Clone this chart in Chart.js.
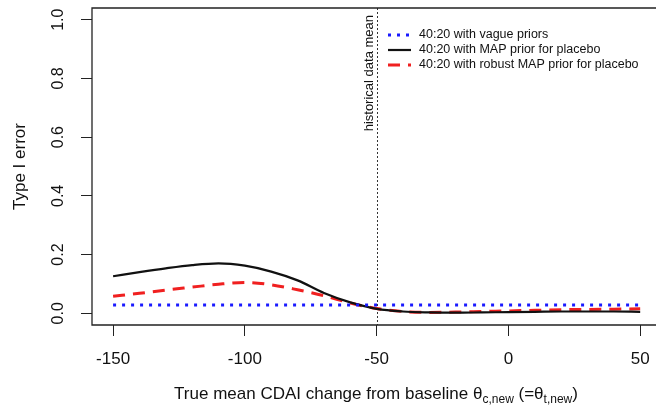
<!DOCTYPE html>
<html>
<head>
<meta charset="utf-8">
<script src="https://cdn.jsdelivr.net/npm/chart.js@4"></script>
<style>
  html, body { margin: 0; padding: 0; background: #fff; overflow: hidden; }
  #wrap { width: 656px; height: 406px; }
</style>
</head>
<body>
<div id="wrap"><canvas id="myChart" width="656" height="406"></canvas></div>
<script>
// valores
const xVals = [-150, -140, -130, -120, -110, -100, -90, -80, -70, -60, -50, -40, -30, -20, -10, 0, 10, 20, 30, 40, 50];
const vague = [0.028, 0.028, 0.028, 0.028, 0.028, 0.028, 0.028, 0.028, 0.028, 0.028, 0.028, 0.028, 0.028, 0.028, 0.028, 0.028, 0.028, 0.028, 0.028, 0.028, 0.028];
const mapPrior = [0.126, 0.140, 0.153, 0.164, 0.170, 0.162, 0.142, 0.112, 0.069, 0.037, 0.015, 0.006, 0.003, 0.002, 0.003, 0.004, 0.005, 0.006, 0.006, 0.006, 0.005];
const robustMap = [0.058, 0.068, 0.079, 0.089, 0.099, 0.105, 0.097, 0.080, 0.060, 0.035, 0.016, 0.006, 0.003, 0.004, 0.006, 0.008, 0.010, 0.012, 0.013, 0.014, 0.015];

const xTicks = [-150, -100, -50, 0, 50];
const yTicks = [0, 0.2, 0.4, 0.6, 0.8, 1.0];
const yTickLabels = ['0.0', '0.2', '0.4', '0.6', '0.8', '1.0'];
const seriesLabels = ['40:20 with vague priors', '40:20 with MAP prior for placebo', '40:20 with robust MAP prior for placebo'];
const historicalMean = -50;

const toPoints = arr => arr.map((y, i) => ({ x: xVals[i], y }));

// dibuja caja, etiquetas del eje y, titulos, linea vertical y leyenda
const extras = {
    id: 'extras',
    beforeDatasetsDraw(chart) {
        const c = chart.ctx;
        const a = chart.chartArea;
        const xs = chart.scales.x;
        const px = xs.getPixelForValue(historicalMean);
        c.save();
        c.strokeStyle = '#333';
        c.lineWidth = 1;
        c.setLineDash([2, 2]);
        c.beginPath();
        c.moveTo(Math.round(px) + 0.5, a.top);
        c.lineTo(Math.round(px) + 0.5, a.bottom);
        c.stroke();
        c.restore();
    },
    afterDraw(chart) {
        const c = chart.ctx;
        const a = chart.chartArea;
        const ys = chart.scales.y;
        const xs = chart.scales.x;
        c.save();
        // caja (el lado derecho queda fuera de la imagen)
        c.strokeStyle = '#222';
        c.lineWidth = 1.3;
        c.beginPath();
        c.moveTo(chart.width + 10, a.top);
        c.lineTo(a.left, a.top);
        c.lineTo(a.left, a.bottom);
        c.lineTo(chart.width + 10, a.bottom);
        c.stroke();

        // etiquetas eje y (rotadas)
        c.fillStyle = '#111';
        c.font = '16px "Liberation Sans", Arial, sans-serif';
        c.textAlign = 'center';
        c.textBaseline = 'middle';
        yTicks.forEach((v, i) => {
            c.save();
            c.translate(59, ys.getPixelForValue(v));
            c.rotate(-Math.PI / 2);
            c.fillText(yTickLabels[i], 0, 0);
            c.restore();
        });

        // titulo eje y
        c.font = '17px "Liberation Sans", Arial, sans-serif';
        c.save();
        c.translate(20, (a.top + a.bottom) / 2);
        c.rotate(-Math.PI / 2);
        c.fillText('Type I error', 0, 0);
        c.restore();

        // titulo eje x con subindices
        const big = '17px "Liberation Sans", Arial, sans-serif';
        const small = '12px "Liberation Sans", Arial, sans-serif';
        const parts = [
            ['True mean CDAI change from baseline \u03b8', big, 0],
            ['c,new', small, 4],
            [' (=\u03b8', big, 0],
            ['t,new', small, 4],
            [')', big, 0]
        ];
        let total = 0;
        parts.forEach(p => { c.font = p[1]; total += c.measureText(p[0]).width; });
        let tx = 376 - total / 2;
        c.textAlign = 'left';
        c.textBaseline = 'alphabetic';
        parts.forEach(p => {
            c.font = p[1];
            c.fillText(p[0], tx, 399 + p[2]);
            tx += c.measureText(p[0]).width;
        });

        // texto vertical de la media historica
        c.font = '13px "Liberation Sans", Arial, sans-serif';
        c.save();
        c.translate(xs.getPixelForValue(historicalMean) - 7, a.top + 7);
        c.rotate(-Math.PI / 2);
        c.textAlign = 'right';
        c.textBaseline = 'middle';
        c.fillText('historical data mean', 0, 0);
        c.restore();

        // leyenda
        c.font = '12.5px "Liberation Sans", Arial, sans-serif';
        c.textAlign = 'left';
        c.textBaseline = 'middle';
        chart.data.datasets.forEach((ds, i) => {
            const y = 35 + i * 15;
            c.save();
            c.strokeStyle = ds.borderColor;
            c.lineWidth = ds.borderWidth;
            c.setLineDash(ds.borderDash || []);
            c.beginPath();
            c.moveTo(388, y);
            c.lineTo(411, y);
            c.stroke();
            c.restore();
            c.fillStyle = '#111';
            c.fillText(seriesLabels[i], 419, y);
        });
        c.restore();
    }
};

const ctx = document.getElementById('myChart');

new Chart(ctx, {
    type: 'line',
    data: {
        datasets: [{
            label: seriesLabels[0],
            data: toPoints(vague),
            borderColor: '#1a1aff',
            borderWidth: 3,
            borderDash: [3, 6],
            pointRadius: 0
        }, {
            label: seriesLabels[1],
            data: toPoints(mapPrior),
            borderColor: '#111',
            borderWidth: 2.2,
            cubicInterpolationMode: 'monotone',
            pointRadius: 0
        }, {
            label: seriesLabels[2],
            data: toPoints(robustMap),
            borderColor: '#f02020',
            borderWidth: 3,
            borderDash: [12, 8],
            cubicInterpolationMode: 'monotone',
            pointRadius: 0
        }]
    },
    options: {
        responsive: false,
        animation: false,
        layout: { padding: { top: 8, left: 0, right: 0, bottom: 0 } },
        plugins: {
            legend: { display: false },
            tooltip: { enabled: false }
        },
        scales: {
            x: {
                type: 'linear',
                min: -158,
                max: 56,
                afterBuildTicks: s => { s.ticks = xTicks.map(v => ({ value: v })); },
                afterFit: s => { s.height = 81; s.paddingLeft = 0; s.paddingRight = 0; },
                border: { display: false },
                grid: { drawOnChartArea: false, drawTicks: true, tickLength: 11, color: '#222', lineWidth: 1 },
                ticks: {
                    color: '#111',
                    padding: 13,
                    maxRotation: 0,
                    font: { family: '"Liberation Sans", Arial, sans-serif', size: 17 }
                }
            },
            y: {
                min: -0.04,
                max: 1.04,
                afterBuildTicks: s => { s.ticks = yTicks.map(v => ({ value: v })); },
                afterFit: s => { s.width = 92; s.paddingTop = 0; s.paddingBottom = 0; },
                border: { display: false },
                grid: { drawOnChartArea: false, drawTicks: true, tickLength: 11, color: '#222', lineWidth: 1 },
                ticks: { display: false }
            }
        }
    },
    plugins: [extras]
});
</script>
</body>
</html>
